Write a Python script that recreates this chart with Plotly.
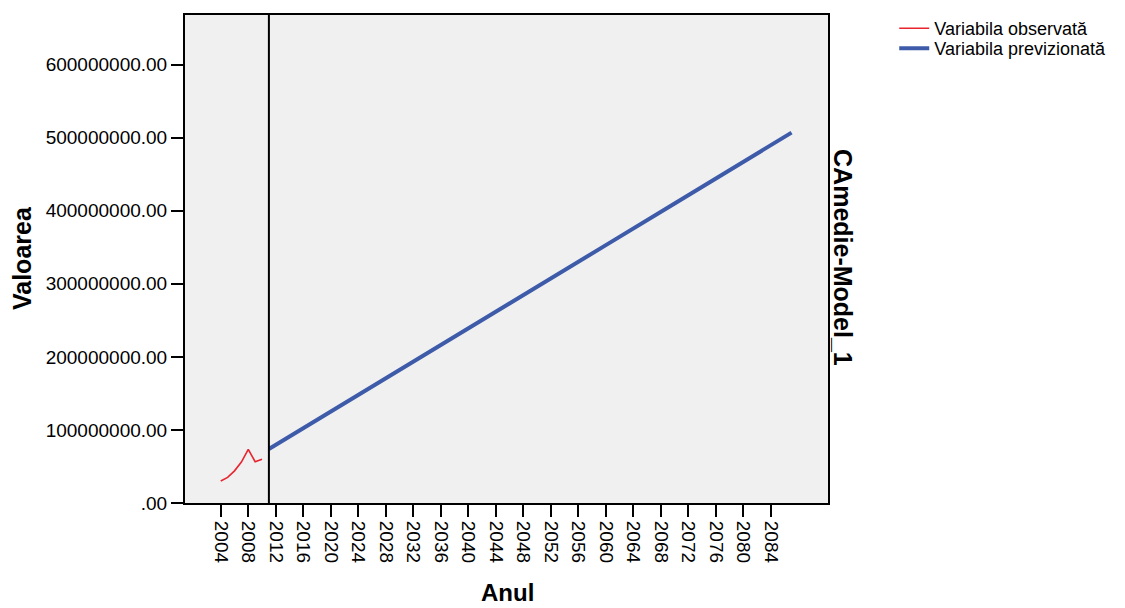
import plotly.graph_objects as go

obs_years = [2004, 2005, 2006, 2007, 2008, 2009, 2010]
obs_values = [30000000, 35000000, 44000000, 56000000, 73500000, 56500000, 60000000]

fc_years = [2011, 2020, 2030, 2040, 2050, 2060, 2070, 2080, 2087]
fc_values = [74000000, 125000000, 182000000, 239000000, 296000000, 353000000, 410000000, 467000000, 507000000]

x_ticks = list(range(2004, 2088, 4))
y_ticks = [0, 100000000, 200000000, 300000000, 400000000, 500000000, 600000000]
y_labels = [".00", "100000000.00", "200000000.00", "300000000.00", "400000000.00", "500000000.00", "600000000.00"]
split_year = 2011

FONT = "Liberation Sans, Arial, sans-serif"

fig = go.Figure()
fig.add_trace(go.Scatter(x=obs_years, y=obs_values, mode="lines", name="Variabila observată",
                         line=dict(color="#E8252F", width=1.6), legend="legend"))
fig.add_trace(go.Scatter(x=fc_years, y=fc_values, mode="lines", name="Variabila previzionată",
                         line=dict(color="#3E5BA9", width=4), legend="legend2"))

fig.add_shape(type="line", xref="x", yref="paper", x0=split_year, x1=split_year, y0=0, y1=1,
              line=dict(color="black", width=2))

fig.add_annotation(text="<b>CAmedie-Model_1</b>", xref="paper", yref="paper", x=1.0233, y=0.502,
                   xanchor="center", yanchor="middle", textangle=90, showarrow=False,
                   font=dict(size=25, color="black", family=FONT))
fig.add_annotation(text="<b>Valoarea</b>", xref="paper", yref="paper", x=-0.2535, y=0.502,
                   xanchor="center", yanchor="middle", textangle=-90, showarrow=False,
                   font=dict(size=25, color="black", family=FONT))
fig.add_annotation(text="<b>Anul</b>", xref="paper", yref="paper", x=0.5008, y=-0.183,
                   xanchor="center", yanchor="middle", showarrow=False,
                   font=dict(size=24, color="black", family=FONT))

legend_common = dict(xanchor="left", yanchor="top", bgcolor="rgba(0,0,0,0)",
                     font=dict(size=18, family=FONT, color="black"), itemwidth=30)

fig.update_layout(
    width=1117, height=600,
    margin=dict(l=177, r=297, t=7, b=105, autoexpand=False),
    paper_bgcolor="white", plot_bgcolor="#F0F0F0",
    font=dict(family=FONT, color="black", size=18),
    showlegend=True,
    legend=dict(x=1.103, y=1.0102, **legend_common),
    legend2=dict(x=1.103, y=0.9693, **legend_common),
    xaxis=dict(range=[1998.8, 2092.3], tickvals=x_ticks, ticktext=[str(v) for v in x_ticks],
               tickangle=90, ticks="outside", ticklen=12, tickwidth=2, tickcolor="black",
               showgrid=False, zeroline=False, showline=True, linecolor="black", linewidth=2, mirror=True,
               tickfont=dict(size=19), automargin=False),
    yaxis=dict(range=[0, 668000000], tickvals=y_ticks, ticktext=y_labels,
               ticks="outside", ticklen=12, tickwidth=2, tickcolor="black",
               showgrid=False, zeroline=False, showline=True, linecolor="black", linewidth=2, mirror=True,
               tickfont=dict(size=19), automargin=False),
)

fig.write_html("out.html")
